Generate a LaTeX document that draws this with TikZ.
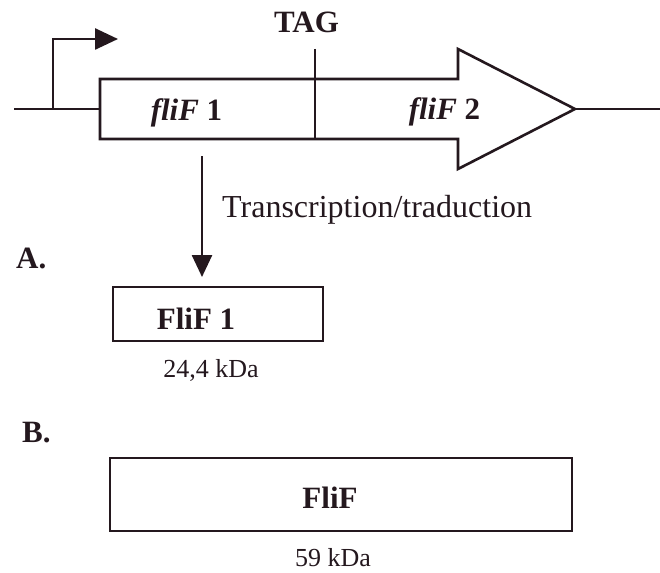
\documentclass[tikz,border=0pt]{standalone}
\usepackage{fontspec}
\setmainfont{Liberation Serif}
\usetikzlibrary{arrows.meta}
\definecolor{ink}{RGB}{36,24,30}
\begin{document}
\begin{tikzpicture}[x=1pt,y=-1pt,
  outline/.style={draw=ink, line width=2.6pt, line join=miter},
  thinline/.style={draw=ink, line width=2pt},
  lbl/.style={inner sep=0pt, anchor=base, text=ink},
  fbold/.style={font=\fontsize{31}{37}\selectfont\bfseries},
  freg/.style={font=\fontsize{32}{38}\selectfont},
  fsmall/.style={font=\fontsize{26}{31}\selectfont},
  protbox/.style={draw=ink, line width=2.6pt, inner sep=0pt},
  bigtip/.style={-{Triangle[length=22pt,width=20pt]}}
]
\useasboundingbox (0,0) rectangle (660,572);
\fill[white] (0,0) rectangle (660,572);

% DNA line and gene arrow
\coordinate (g0) at (14,109);
\coordinate (gL) at (100,109);
\coordinate (gtip) at (575,109);
\coordinate (g1) at (660,109);
\draw[thinline] (g0) -- (gL);
\draw[thinline] (gtip) -- (g1);
\draw[outline] (100,79) -- (458,79) -- (458,49) -- (gtip) -- (458,169) -- (458,139) -- (100,139) -- cycle;

% promoter
\coordinate (pr0) at (53,109);
\coordinate (pr1) at (53,39);
\coordinate (pr2) at (118,39);
\draw[outline, -{Triangle[length=23pt,width=21pt]}] (pr0) -- (pr1) -- (pr2);

% TAG
\coordinate (t0) at (315,49);
\coordinate (t1) at (315,139);
\draw[outline] (t0) -- (t1);
\node[lbl, fbold] (tag) at (306.5,33) {TAG};

\node[lbl, fbold] (f1) at (186.5,121) {\textit{fliF\/} 1};
\node[lbl, fbold] (f2) at (444.5,120) {\textit{fliF\/} 2};

% transcription arrow
\coordinate (a0) at (202,156);
\coordinate (a1) at (202,277);
\draw[outline, bigtip] (a0) -- (a1);
\node[lbl, freg, anchor=base west] (tt) at (222,217) {Transcription/traduction};

% A
\node[lbl, fbold, anchor=base west] (labA) at (16,268) {A.};
\node[protbox, minimum width=210pt, minimum height=54pt] (box1) at (218,314) {};
\node[lbl, fbold] (t1txt) at (196,329) {FliF 1};
\node[lbl, fsmall] (m1) at (211,377) {24,4 kDa};

% B
\node[lbl, fbold, anchor=base west] (labB) at (22,442) {B.};
\node[protbox, minimum width=462pt, minimum height=73pt] (box2) at (341,494.5) {};
\node[lbl, fbold] (t2txt) at (330,508) {FliF};
\node[lbl, fsmall] (m2) at (333,566) {59 kDa};
\end{tikzpicture}
\end{document}
